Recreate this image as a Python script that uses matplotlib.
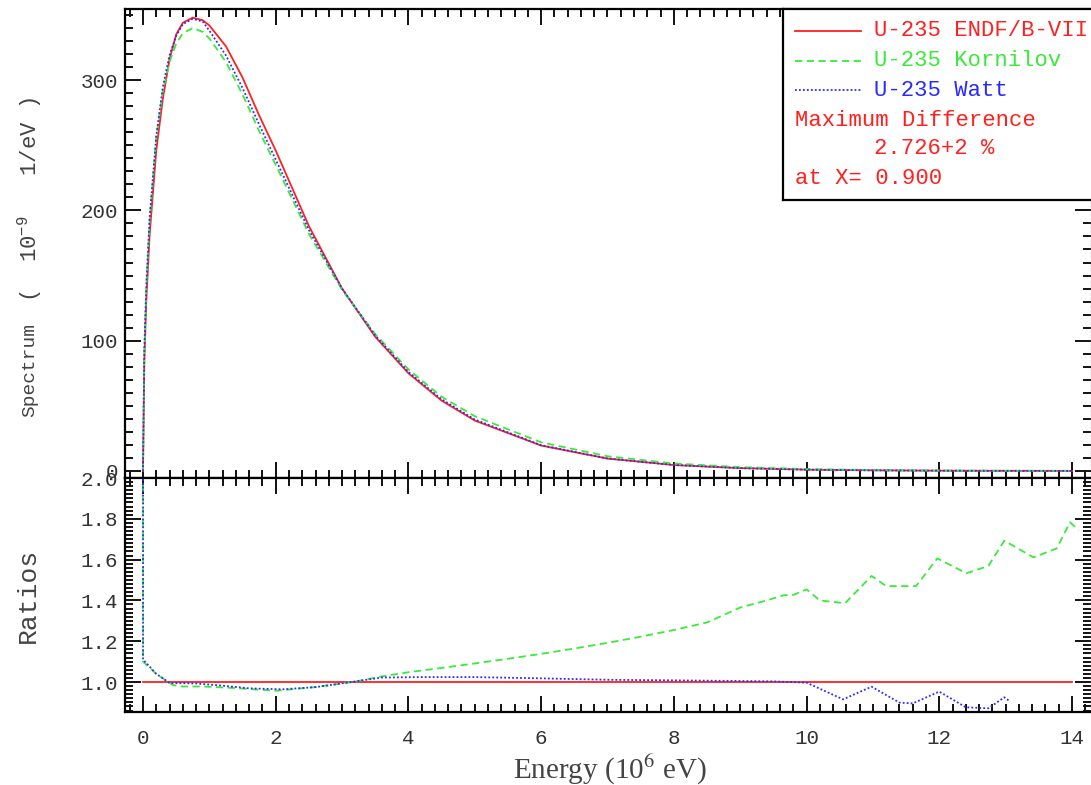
import matplotlib
matplotlib.use("Agg")
import matplotlib.pyplot as plt
from matplotlib.ticker import MultipleLocator

plt.rcParams['mathtext.fontset'] = 'custom'
plt.rcParams['mathtext.rm'] = 'Liberation Mono'
MONO = 'Liberation Mono'

# U-235 prompt fission neutron spectra (1e-9 1/eV) vs energy (MeV)
energy = [0, 0.02, 0.05, 0.1, 0.2, 0.3, 0.4, 0.5, 0.6, 0.75, 0.9, 1.0, 1.25, 1.5,
          1.75, 2.0, 2.5, 3.0, 3.5, 4.0, 4.5, 5.0, 6.0, 7.0, 8.0, 9.0, 10.0, 11.0,
          12.0, 13.0, 14.0]
spec_endf = [0, 84, 131, 181, 246, 286, 316, 335, 344, 348, 346, 342, 326, 302,
             273, 246, 188, 140, 103, 75, 54, 38.7, 19.5, 9.5, 4.56, 2.18, 1.0, 0.5,
             0.22, 0.1, 0.05]
spec_korn = [0, 91, 140, 192, 256, 292, 314, 328, 336, 340, 337, 332, 314, 289,
             261, 235, 182, 139, 105, 78, 57, 42, 22, 11.3, 5.75, 2.96, 1.45, 0.76,
             0.35, 0.17, 0.09]
spec_watt = [0, 92, 142, 194, 257, 295, 319, 334, 343, 347, 345, 338, 319, 294,
             266, 239, 185, 140, 104, 76, 55, 39.5, 19.8, 9.6, 4.6, 2.2, 1.0, 0.46,
             0.21, 0.09, 0.04]

# ratios to ENDF/B-VII
ratio_endf_e = [0, 14.0]
ratio_endf = [1.0, 1.0]
ratio_korn_e = [0, 0.001, 0.2, 0.45, 0.6, 0.9, 1.4, 2.0, 2.6, 3.16, 3.57, 4.0, 4.5,
                5.0, 5.5, 6.0, 6.5, 7.0, 7.5, 8.0, 8.5, 9.0, 9.4, 9.65, 9.8, 10.0,
                10.2, 10.58, 10.98, 11.2, 11.65, 11.97, 12.41, 12.74, 12.98, 13.42,
                13.77, 13.97, 14.1]
ratio_korn = [2.6, 1.10, 1.04, 0.985, 0.978, 0.978, 0.97, 0.957, 0.975, 1.0, 1.026,
              1.048, 1.069, 1.091, 1.114, 1.138, 1.164, 1.192, 1.222, 1.255, 1.292,
              1.365, 1.40, 1.425, 1.427, 1.454, 1.40, 1.386, 1.52, 1.47, 1.47, 1.606,
              1.533, 1.569, 1.693, 1.611, 1.655, 1.783, 1.745]
ratio_watt_e = [0, 0.001, 0.2, 0.4, 0.8, 1.2, 1.6, 2.1, 2.6, 3.1, 3.6, 4.2, 5.0,
                6.0, 7.0, 8.0, 9.0, 9.5, 10.0, 10.55, 10.98, 11.4, 11.6, 12.0, 12.4,
                12.74, 12.98, 13.07]
ratio_watt = [2.6, 1.11, 1.04, 0.995, 0.993, 0.982, 0.969, 0.964, 0.975, 0.998,
              1.022, 1.024, 1.024, 1.018, 1.011, 1.008, 1.005, 1.003, 0.997, 0.915,
              0.977, 0.899, 0.895, 0.953, 0.876, 0.871, 0.925, 0.904]

RED = '#ff2020'
GREEN = '#3aea3a'
BLUE = '#2a2aff'
styles = [(RED, '-'), (GREEN, (0, (4, 2.5))), (BLUE, (0, (1, 1.2)))]

W, H = 1091, 785
fig = plt.figure(figsize=(W / 100, H / 100), dpi=100)

left, right = 125, 1090.5
ax1 = fig.add_axes([left / W, 1 - 478 / H, (right - left) / W, 469 / H])
ax2 = fig.add_axes([left / W, 1 - 712 / H, (right - left) / W, 234 / H], sharex=ax1)

for (c, ls), y in zip(styles, [spec_endf, spec_korn, spec_watt]):
    ax1.plot(energy, y, color=c, ls=ls, lw=1.3)
for (c, ls), (x, y) in zip(styles, [(ratio_endf_e, ratio_endf),
                                     (ratio_korn_e, ratio_korn),
                                     (ratio_watt_e, ratio_watt)]):
    ax2.plot(x, y, color=c, ls=ls, lw=1.3)

ax1.set_xlim(-0.271, 14.279)
ax1.set_ylim(-5.4, 354.6)
ax2.set_ylim(0.853, 2.0)

ax1.yaxis.set_major_locator(MultipleLocator(100))
ax1.yaxis.set_minor_locator(MultipleLocator(10))
ax2.yaxis.set_major_locator(MultipleLocator(0.2))
ax2.yaxis.set_minor_locator(MultipleLocator(0.02))
ax1.xaxis.set_major_locator(MultipleLocator(2))
ax1.xaxis.set_minor_locator(MultipleLocator(0.2))

for ax in (ax1, ax2):
    ax.tick_params(which='both', direction='in', top=True, right=True,
                   width=1.4, colors='#111111', labelcolor='#333333')
    ax.tick_params(which='major', length=11.5, labelsize=15, pad=5)
    ax.tick_params(which='minor', length=5.5)
    for s in ax.spines.values():
        s.set_linewidth(1.6)
    ax.spines['right'].set_color('#999999')
    ax.spines['right'].set_linestyle((0, (1, 2)))
    ax.spines['right'].set_linewidth(1)

ax1.tick_params(axis='x', labelbottom=False)
ax2.tick_params(axis='x', pad=12)
ax2.yaxis.set_major_formatter(plt.FuncFormatter(lambda v, p: f'{v:.1f}'))
for ax in (ax1, ax2):
    for lab in ax.get_xticklabels() + ax.get_yticklabels():
        lab.set_family(MONO)

# axis titles
fig.text(30 / W, 1 - 370 / H, 'Spectrum', rotation=90, ha='center', va='center',
         fontsize=14, family=MONO, color='#444444')
fig.text(30 / W, 1 - 200 / H, '(  10$^{-9}$   1/eV )', rotation=90, ha='center',
         va='center', fontsize=16, family=MONO, color='#444444',
         math_fontfamily='custom')
fig.text(28 / W, 1 - 595 / H, 'Ratios', rotation=90, ha='center', va='center',
         fontsize=19, family=MONO, color='#444444')
fig.text(610 / W, 1 - 770 / H, 'Energy (10$^6$ eV)', ha='center', va='center',
         fontsize=21, family='Liberation Serif', color='#444444',
         math_fontfamily='stix')

# legend box
lg = fig.add_axes([783 / W, 1 - 200 / H, (1100 - 783) / W, 191 / H])
lg.set_xlim(783, 1100)
lg.set_ylim(200, 9)
lg.set_xticks([])
lg.set_yticks([])
for s in lg.spines.values():
    s.set_linewidth(1.6)
names = ['U-235 ENDF/B-VII', 'U-235 Kornilov', 'U-235 Watt']
for (c, ls), name, yy in zip(styles, names, [31, 61, 90]):
    lg.plot([795, 861], [yy, yy], color=c, ls=ls, lw=1.3)
    lg.text(874, yy, name, color=c, va='center', ha='left', fontsize=16, family=MONO)
lg.text(795, 120, 'Maximum Difference', color=RED, va='center', fontsize=16, family=MONO)
lg.text(874, 149, '2.726+2 %', color=RED, va='center', fontsize=16, family=MONO)
lg.text(795, 178, 'at X= 0.900', color=RED, va='center', fontsize=16, family=MONO)

fig.savefig('out.png', dpi=100)
